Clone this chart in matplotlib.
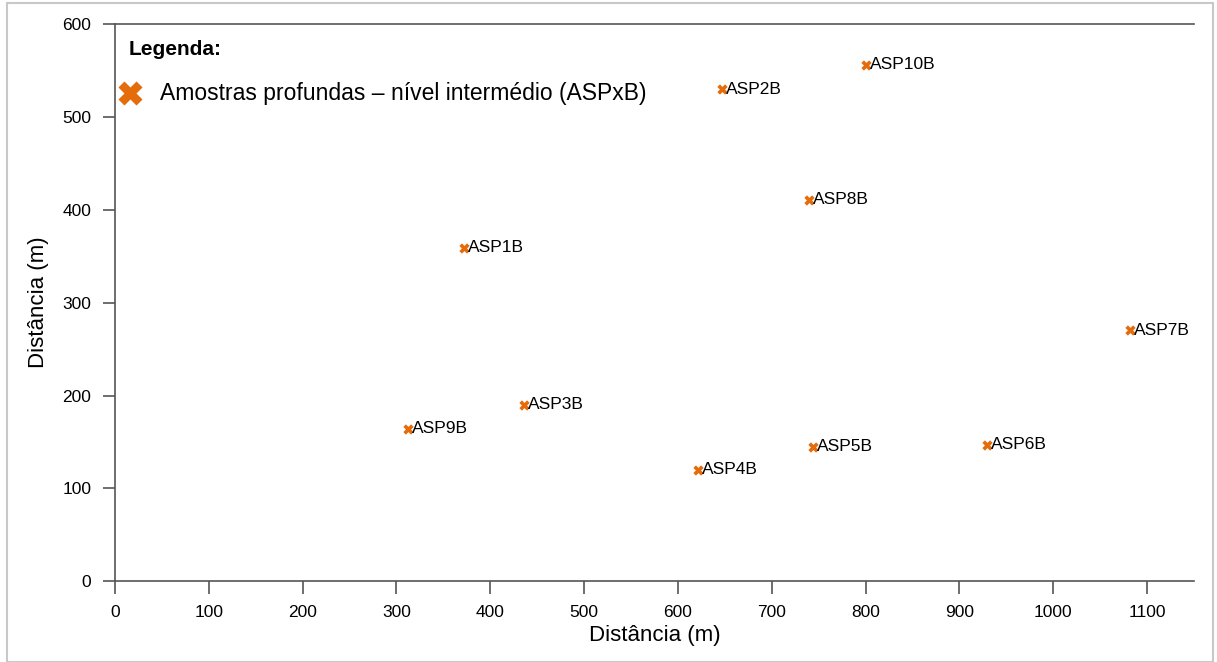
import matplotlib.pyplot as plt
from matplotlib.patches import Rectangle

plt.rcParams['font.family'] = ['Liberation Sans', 'DejaVu Sans']

# sample points (m)
names = ['ASP1B', 'ASP2B', 'ASP3B', 'ASP4B', 'ASP5B', 'ASP6B', 'ASP7B', 'ASP8B', 'ASP9B', 'ASP10B']
x_vals = [372, 647, 436, 621, 744, 929, 1082, 740, 312, 800]
y_vals = [359, 530, 190, 120, 145, 147, 270, 411, 164, 556]

orange = '#E46C0A'

fig = plt.figure(figsize=(12.17, 6.62), dpi=100)
ax = fig.add_axes([0.0945, 0.122, 0.8865, 0.8417])

ax.scatter(x_vals, y_vals, marker='X', s=55, color=orange, linewidths=0, zorder=3)
for n, xv, yv in zip(names, x_vals, y_vals):
    ax.annotate(n, (xv, yv), xytext=(3, 0), textcoords='offset points',
                va='center', ha='left', fontsize=12.5)

ax.set_xlim(0, 1150)
ax.set_ylim(0, 600)
ax.set_xticks(range(0, 1101, 100))
ax.set_yticks(range(0, 601, 100))
ax.tick_params(labelsize=12.5, length=9, color='#555555', width=1.2, pad=8)
ax.spines['right'].set_visible(False)
for s in ['left', 'bottom', 'top']:
    ax.spines[s].set_color('#555555')
    ax.spines[s].set_linewidth(1.2)

ax.set_xlabel('Distância (m)', fontsize=16, labelpad=4)
ax.set_ylabel('Distância (m)', fontsize=16, labelpad=10)

# legend text inside the plot
ax.text(0.013, 0.955, 'Legenda:', transform=ax.transAxes, fontsize=15,
        fontweight='bold', va='center', ha='left')
ax.scatter([0.014], [0.876], transform=ax.transAxes, marker='X', s=300,
           color=orange, linewidths=0, clip_on=False)
ax.text(0.042, 0.876, 'Amostras profundas – nível intermédio (ASPxB)',
        transform=ax.transAxes, fontsize=16.5, va='center', ha='left')

# light figure border
fig.patches.append(Rectangle((0.006, 0.0), 0.991, 0.995, transform=fig.transFigure,
                             fill=False, edgecolor='#c8c8c8', linewidth=1.5))

fig.savefig('out.png', dpi=100)
